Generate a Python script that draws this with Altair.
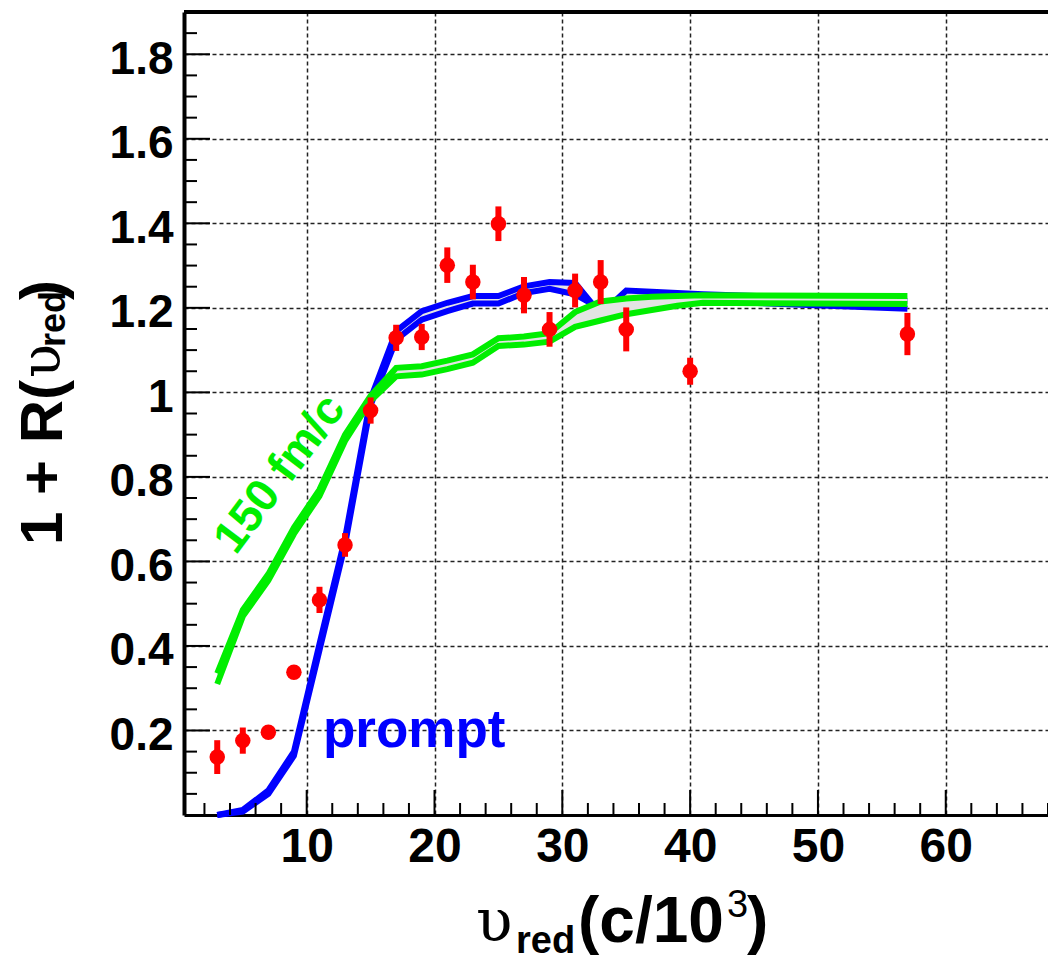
import altair as alt
import pandas as pd

# ---------------- data ----------------
x_pts = [3, 5, 7, 9, 11, 13, 15, 17, 19, 21, 23, 25, 27, 29, 31, 33, 35, 40, 57]
y_pts = [0.137, 0.176, 0.196, 0.338, 0.509, 0.639, 0.957, 1.129, 1.131, 1.301,
         1.261, 1.399, 1.230, 1.149, 1.241, 1.261, 1.149, 1.050, 1.138]
y_err = [0.040, 0.031, 0.012, 0.012, 0.031, 0.028, 0.031, 0.031, 0.031, 0.042,
         0.041, 0.041, 0.043, 0.041, 0.040, 0.052, 0.052, 0.032, 0.050]

curve_x = [3, 5, 7, 9, 11, 13, 15, 17, 19, 21, 23, 25, 27, 29, 31, 33, 35, 37, 39, 41, 57]
blue_hi = [0.00, 0.012, 0.058, 0.150, 0.405, 0.655, 0.985, 1.145, 1.192, 1.212, 1.228,
           1.228, 1.251, 1.261, 1.259, 1.185, 1.241, 1.238, 1.235, 1.232, 1.216]
blue_lo = [0.00, 0.008, 0.050, 0.140, 0.390, 0.640, 0.970, 1.125, 1.172, 1.192, 1.210,
           1.210, 1.235, 1.245, 1.232, 1.198, 1.204, 1.210, 1.214, 1.216, 1.198]
green_hi = [0.335, 0.485, 0.570, 0.680, 0.770, 0.900, 0.992, 1.058, 1.062, 1.075, 1.090,
            1.128, 1.132, 1.140, 1.190, 1.215, 1.222, 1.226, 1.228, 1.230, 1.228]
green_lo = [0.310, 0.470, 0.555, 0.665, 0.755, 0.885, 0.980, 1.038, 1.042, 1.055, 1.070,
            1.110, 1.113, 1.120, 1.155, 1.170, 1.185, 1.195, 1.205, 1.212, 1.209]

x_major = [10, 20, 30, 40, 50, 60]
x_minor = [v for v in range(2, 69, 2) if v % 10 != 0]
y_major = [0.2, 0.4, 0.6, 0.8, 1, 1.2, 1.4, 1.6, 1.8]
y_minor = [round(0.05 * i, 2) for i in range(1, 38) if i % 4 != 0]

pts = pd.DataFrame({"x": x_pts, "y": y_pts,
                    "lo": [a - b for a, b in zip(y_pts, y_err)],
                    "hi": [a + b for a, b in zip(y_pts, y_err)]})
curves = pd.DataFrame({"x": curve_x, "bh": blue_hi, "bl": blue_lo,
                       "gh": green_hi, "gl": green_lo})

# ---------------- layout ----------------
W, H = 864, 803
FONT = "Liberation Sans"
SERIF = "DejaVu Serif"

xs = alt.Scale(domain=[0.4, 68], nice=False, zero=False)
ys = alt.Scale(domain=[0, 1.9], nice=False, zero=False)

xaxis = alt.Axis(values=x_major, title=None, ticks=False, tickSize=0,
                 domainWidth=3, domainColor="black",
                 labelFont=FONT, labelFontWeight="bold", labelFontSize=48,
                 labelColor="black", labelPadding=8, labelFlush=False,
                 grid=True, gridDash=[4, 3], gridColor="#222222", gridWidth=1.5,
                 gridOpacity=1)
yaxis = alt.Axis(values=y_major, title=None, ticks=False, tickSize=0,
                 domainWidth=4, domainColor="black",
                 labelFont=FONT, labelFontWeight="bold", labelFontSize=46,
                 labelColor="black", labelPadding=11, labelOffset=5,
                 labelExpr="datum.value == 1 ? '1' : format(datum.value, '.1f')",
                 grid=True, gridDash=[4, 3], gridColor="#222222", gridWidth=1.5,
                 gridOpacity=1)


def X(f):
    return alt.X(f, type="quantitative", scale=xs, axis=xaxis)


def Y(f):
    return alt.Y(f, type="quantitative", scale=ys, axis=yaxis)


base_layer = alt.Chart(pts).mark_point(opacity=0).encode(x=X("x"), y=Y("y"))

# inside ticks
xmaj_t = alt.Chart(pd.DataFrame({"v": x_major})).mark_rule(color="black", strokeWidth=2).encode(
    x=X("v"), y=alt.value(H), y2=alt.value(H - 25))
xmin_t = alt.Chart(pd.DataFrame({"v": x_minor})).mark_rule(color="black", strokeWidth=2).encode(
    x=X("v"), y=alt.value(H), y2=alt.value(H - 12))
ymaj_t = alt.Chart(pd.DataFrame({"v": y_major})).mark_rule(color="black", strokeWidth=2).encode(
    y=Y("v"), x=alt.value(0), x2=alt.value(26))
ymin_t = alt.Chart(pd.DataFrame({"v": y_minor})).mark_rule(color="black", strokeWidth=2).encode(
    y=Y("v"), x=alt.value(0), x2=alt.value(13))

top_frame = alt.Chart(pd.DataFrame({"a": [0]})).mark_rule(color="black", strokeWidth=4).encode(
    x=alt.value(0), x2=alt.value(W), y=alt.value(0))

# bands
blue_fill = alt.Chart(curves).mark_area(color="#e4e4e4", opacity=1).encode(
    x=X("x"), y=Y("bl"), y2="bh")
green_fill = alt.Chart(curves).mark_area(color="#e4e4e4", opacity=1).encode(
    x=X("x"), y=Y("gl"), y2="gh")
blue_hi_l = alt.Chart(curves).mark_line(color="#0000ff", strokeWidth=6).encode(x=X("x"), y=Y("bh"))
blue_lo_l = alt.Chart(curves).mark_line(color="#0000ff", strokeWidth=6).encode(x=X("x"), y=Y("bl"))
green_hi_l = alt.Chart(curves).mark_line(color="#00ee00", strokeWidth=6).encode(x=X("x"), y=Y("gh"))
green_lo_l = alt.Chart(curves).mark_line(color="#00ee00", strokeWidth=6).encode(x=X("x"), y=Y("gl"))

# data points
errs = alt.Chart(pts).mark_rule(color="#ff0000", strokeWidth=6).encode(
    x=X("x"), y=Y("lo"), y2="hi")
dots = alt.Chart(pts).mark_circle(color="#ff0000", size=240, opacity=1).encode(
    x=X("x"), y=Y("y"))


def label(text, x, y, size, color="black", weight="bold", font=FONT, angle=0,
          align="left", baseline="alphabetic"):
    return alt.Chart(pd.DataFrame({"t": [text]})).mark_text(
        font=font, fontSize=size, fontWeight=weight, color=color, angle=angle,
        align=align, baseline=baseline).encode(
        text="t:N", x=alt.value(x), y=alt.value(y))


annots = [
    label("prompt", 139, 735, 53, color="#0000ff"),
    label("150 fm/c", 96, 462, 46, color="#00ee00", angle=307, align="center",
          baseline="middle"),
    # x title
    label("\u03c5", 292, 929, 60, weight="normal", font=SERIF),
    label("red", 332, 941, 38),
    label("(c/10", 394, 930, 64),
    label("3", 543, 905, 38, weight="normal"),
    label(")", 563, 930, 64),
    # y title
    label("1 + R(", -122, 533, 60, angle=270),
    label("\u03c5", -124, 366, 56, weight="normal", font=SERIF, angle=270),
    label("red", -119, 335, 36, angle=270),
    label(")", -122, 288, 60, angle=270),
]

chart = alt.layer(
    base_layer, blue_fill, blue_hi_l, blue_lo_l, green_fill, green_hi_l, green_lo_l,
    errs, dots, xmaj_t, xmin_t, ymaj_t, ymin_t, top_frame, *annots
).properties(
    width=W, height=H,
    padding={"left": 184, "top": 12, "right": 0, "bottom": 145},
    autosize="none", background="white"
).configure_view(stroke=None)

chart.save("out.html", embed_options={"renderer": "svg", "actions": False})
